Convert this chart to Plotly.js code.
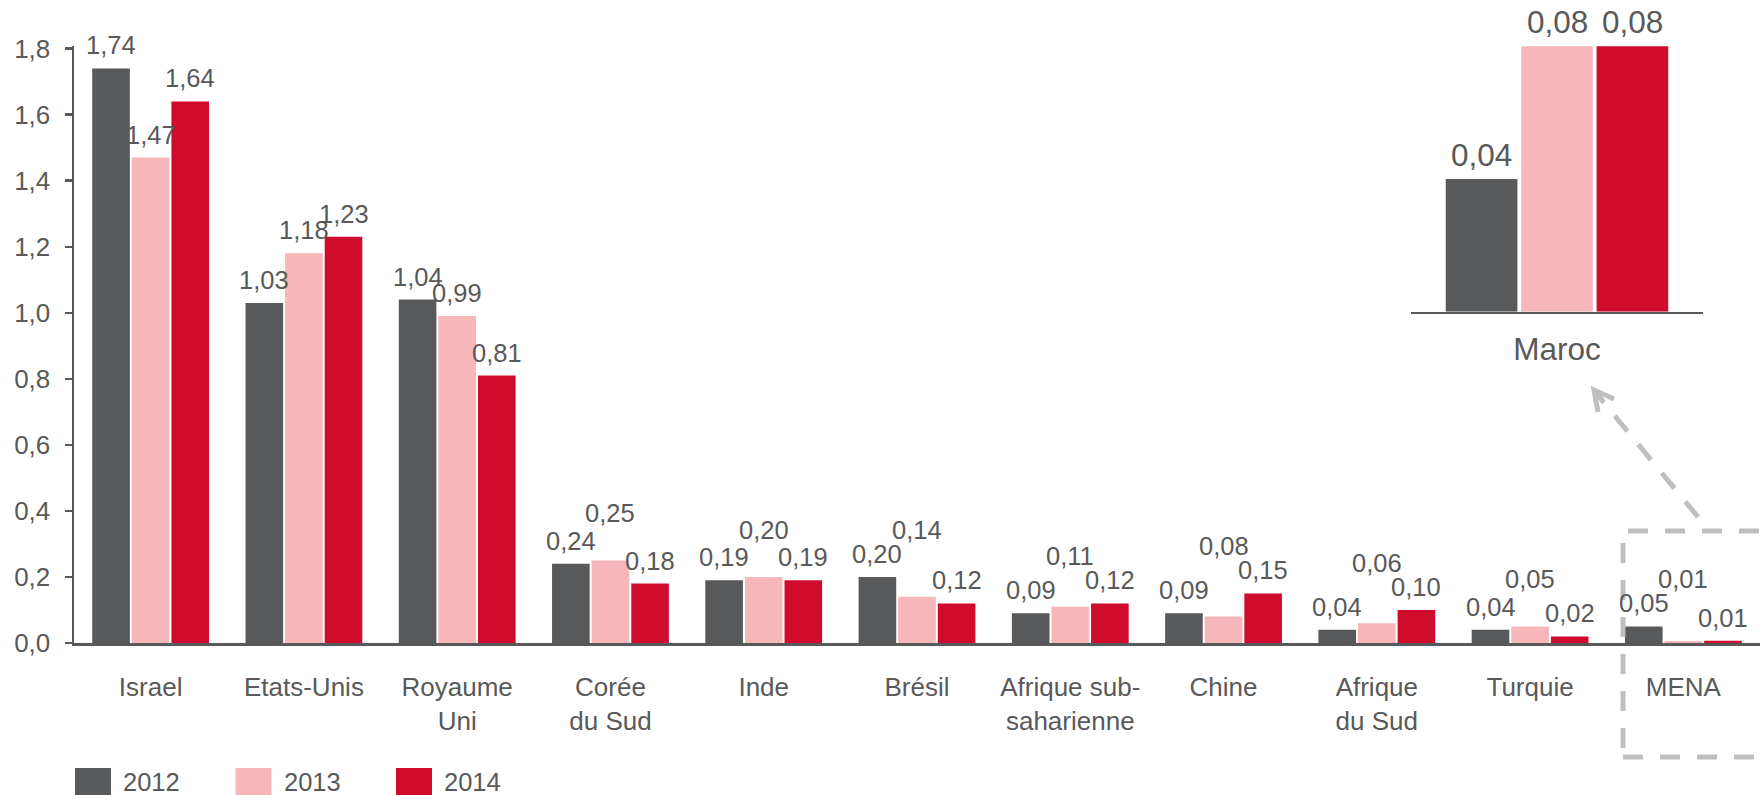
<!DOCTYPE html>
<html>
<head>
<meta charset="utf-8">
<script src="https://cdn.plot.ly/plotly-3.0.1.min.js"></script>
<style>
  html, body { margin: 0; padding: 0; background: #fff; }
  #myDiv { width: 1764px; height: 795px; }
</style>
</head>
<body>
<div id="myDiv"></div>
<script>
var categories = ['Israel', 'Etats-Unis', 'Royaume<br>Uni', 'Corée<br>du Sud', 'Inde', 'Brésil',
  'Afrique sub-<br>saharienne', 'Chine', 'Afrique<br>du Sud', 'Turquie', 'MENA'];
var years = ['2012', '2013', '2014'];
var v2012 = [1.74, 1.03, 1.04, 0.24, 0.19, 0.20, 0.09, 0.09, 0.04, 0.04, 0.05];
var v2013 = [1.47, 1.18, 0.99, 0.25, 0.20, 0.14, 0.11, 0.08, 0.06, 0.05, 0.006];
var v2014 = [1.64, 1.23, 0.81, 0.18, 0.19, 0.12, 0.12, 0.15, 0.10, 0.02, 0.007];

var zoomCategory = ['Maroc'];
var m2012 = [0.04];
var m2013 = [0.08];
var m2014 = [0.08];

var colors = ['#58595b', '#f6b6ba', '#d00c2e'];
var txt = '#595959';
var font = 'Liberation Sans, Arial, sans-serif';

// plot box in pixels, used to place the decorations
var L = 74, R = 4, T = 46, B = 152;
var W = 1764 - L - R, H = 795 - T - B;
function px(x) { return (x - L) / W; }
function py(y) { return (T + H - y) / H; }

var bargap = 0.225;
var slot = (1 - bargap) / 3;

function fmt(v) { return v.toFixed(2).replace('.', ','); }

var series = [v2012, v2013, v2014];
var inset = [m2012, m2013, m2014];
var data = [];
for (var i = 0; i < 3; i++) {
  data.push({
    type: 'bar', x: categories, y: series[i], name: years[i],
    marker: { color: colors[i] }, hoverinfo: 'x+y+name'
  });
}
for (var i = 0; i < 3; i++) {
  data.push({
    type: 'bar', x: zoomCategory, y: inset[i], name: years[i],
    xaxis: 'x2', yaxis: 'y2', showlegend: false,
    marker: { color: colors[i] }
  });
}

var annotations = [];
for (var j = 0; j < categories.length; j++) {
  for (var i = 0; i < 3; i++) {
    var yv = series[i][j];
    var shift = 7;
    if (i == 1) {
      // middle label goes up when it would hit its neighbours
      var close = Math.abs(v2013[j] - v2012[j]) < 0.045 || Math.abs(v2013[j] - v2014[j]) < 0.045;
      if (close) {
        yv = Math.max(v2012[j], v2013[j], v2014[j]);
        shift += 24;
      }
    }
    annotations.push({
      xref: 'x', yref: 'y', x: j + (i - 1) * slot, y: yv, yshift: shift,
      text: fmt(series[i][j]), showarrow: false, yanchor: 'bottom',
      font: { size: 25.5, color: txt, family: font }
    });
  }
}
for (var i = 0; i < 3; i++) {
  annotations.push({
    xref: 'x2', yref: 'y2', x: (i - 1) * slot, y: inset[i][0], yshift: 4,
    text: fmt(inset[i][0]), showarrow: false, yanchor: 'bottom',
    font: { size: 31.5, color: txt, family: font }
  });
}

var grey = '#bfbfbf';
var shapes = [
  { type: 'rect', xref: 'paper', yref: 'paper', x0: px(1623), x1: px(1800), y0: py(757), y1: py(531),
    line: { color: grey, width: 5, dash: '20px,17px' } },
  { type: 'line', xref: 'paper', yref: 'paper', x0: px(1698), y0: py(517), x1: px(1596), y1: py(393),
    line: { color: grey, width: 5, dash: '20px,17px' } },
  { type: 'path', xref: 'paper', yref: 'paper',
    path: 'M' + px(1614) + ',' + py(399) + ' L' + px(1594) + ',' + py(390) + ' L' + px(1598) + ',' + py(412),
    line: { color: grey, width: 5 } }
];

// legend drawn by hand, Plotly keeps bar swatches tiny
for (var k = 0; k < years.length; k++) {
  var x0 = 75 + 160.5 * k;
  shapes.push({ type: 'rect', xref: 'paper', yref: 'paper', x0: px(x0), x1: px(x0 + 36), y0: py(800), y1: py(768),
    fillcolor: colors[k], line: { width: 0 } });
  annotations.push({ xref: 'paper', yref: 'paper', x: px(x0 + 46), y: py(782), xanchor: 'left', yanchor: 'middle',
    text: years[k], showarrow: false, font: { size: 25.5, color: txt, family: font } });
}

var layout = {
  width: 1764, height: 795,
  margin: { l: L, r: R, t: T, b: B },
  paper_bgcolor: '#fff', plot_bgcolor: 'rgba(0,0,0,0)',
  font: { family: font, color: txt },
  separators: ',.',
  barmode: 'group', bargap: bargap, bargroupgap: 0.05,
  showlegend: false,
  xaxis: {
    domain: [0, 1], showline: true, linecolor: txt, linewidth: 2.5, ticks: '',
    showgrid: false, zeroline: false, tickfont: { size: 26, color: txt },
    ticklabelstandoff: 19
  },
  yaxis: {
    range: [0, H / 330.2], dtick: 0.2, tickformat: '.1f', showline: true, linecolor: txt, linewidth: 2.5,
    ticks: 'outside', ticklen: 7, tickwidth: 2.5, tickcolor: txt, showgrid: false, zeroline: false,
    tickfont: { size: 26, color: txt }, ticklabelstandoff: 9
  },
  xaxis2: {
    domain: [px(1411), px(1703)], anchor: 'y2', showline: true, linecolor: txt, linewidth: 2.5,
    ticks: '', showgrid: false, zeroline: false, tickfont: { size: 31.5, color: txt }, ticklabelstandoff: 8
  },
  yaxis2: {
    domain: [py(311.7), 1], anchor: 'x2', range: [0, 0.0801], visible: false
  },
  annotations: annotations,
  shapes: shapes
};

Plotly.newPlot('myDiv', data, layout, { displayModeBar: false, staticPlot: true });
</script>
</body>
</html>
